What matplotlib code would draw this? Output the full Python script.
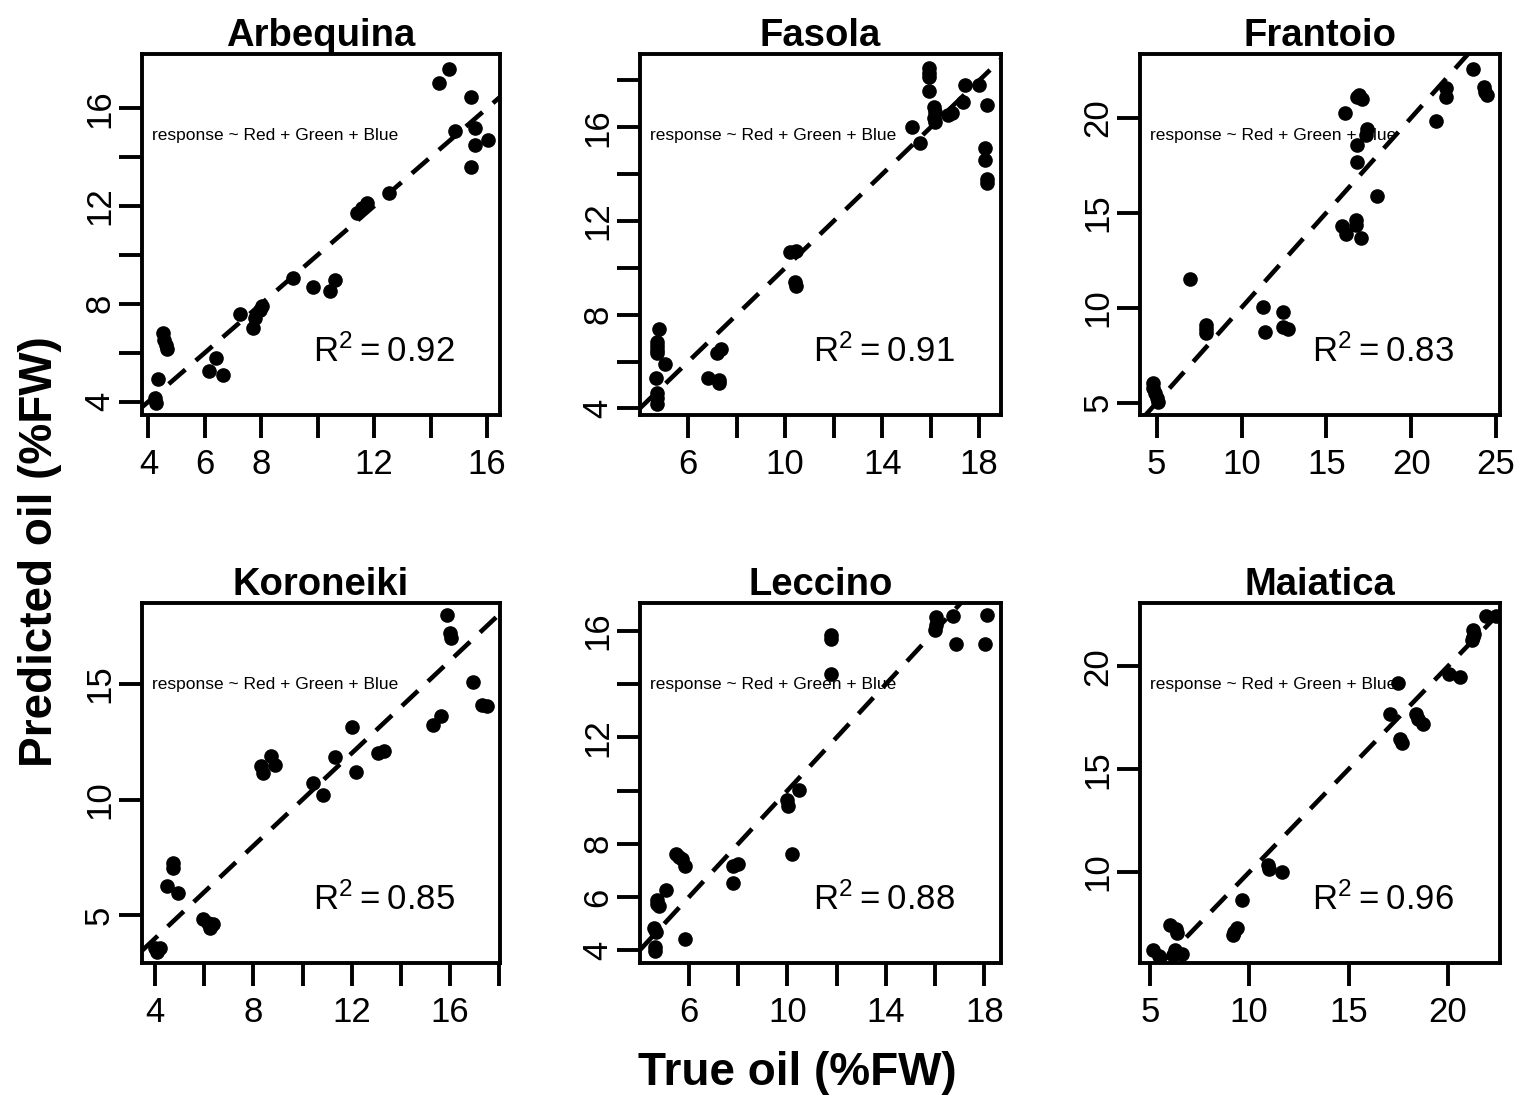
import matplotlib
matplotlib.use("Agg")
import matplotlib.pyplot as plt

plt.rcParams["font.family"] = ["Liberation Sans", "DejaVu Sans"]

cultivars = ["Arbequina", "Fasola", "Frantoio", "Koroneiki", "Leccino", "Maiatica"]
r2_values = [0.92, 0.91, 0.83, 0.85, 0.88, 0.96]

# true vs predicted oil (%FW)
arbequina_true = [14.29, 14.64, 15.43, 14.88, 15.59, 15.59, 16.02, 15.43, 12.51, 11.74,
                  11.57, 11.39, 10.62, 10.42, 9.83, 9.14, 8.02, 7.96, 7.78, 7.70,
                  7.23, 6.40, 6.13, 6.64, 4.53, 4.56, 4.63, 4.67, 4.35, 4.24, 4.27]
arbequina_pred = [17.02, 17.60, 16.45, 15.05, 15.18, 14.50, 14.70, 13.61, 12.52, 12.11,
                  11.91, 11.70, 8.98, 8.54, 8.68, 9.05, 7.89, 7.75, 7.41, 7.00,
                  7.59, 5.77, 5.27, 5.09, 6.80, 6.52, 6.32, 6.14, 4.91, 4.14, 3.93]

fasola_true = [15.94, 15.94, 15.94, 15.94, 16.13, 16.17, 16.13, 16.17, 16.72, 16.86,
               17.41, 17.34, 18.00, 18.33, 15.21, 15.58, 18.23, 18.23, 18.33, 18.33,
               10.19, 10.44, 10.40, 10.44, 4.80, 4.72, 4.72, 4.72, 4.72, 5.04,
               4.67, 4.72, 4.72, 4.72, 7.17, 7.37, 6.82, 7.28, 7.28]
fasola_pred = [18.52, 18.31, 18.16, 17.57, 16.88, 16.67, 16.38, 16.24, 16.53, 16.60,
               17.81, 17.10, 17.81, 16.95, 16.00, 15.32, 15.10, 14.60, 13.78, 13.64,
               10.69, 10.73, 9.41, 9.22, 7.37, 6.85, 6.66, 6.49, 6.35, 5.88,
               5.28, 4.64, 4.43, 4.21, 6.35, 6.52, 5.28, 5.21, 5.10]

frantoio_true = [23.66, 22.05, 22.05, 24.29, 24.35, 24.45, 21.46, 16.83, 17.08, 16.95,
                 16.10, 17.42, 17.34, 16.79, 16.79, 17.97, 15.90, 16.14, 16.75, 16.75,
                 17.02, 6.96, 11.25, 12.43, 11.39, 12.47, 12.76, 7.91, 7.91, 7.91,
                 4.80, 4.80, 4.90, 5.00, 5.10]
frantoio_pred = [22.54, 21.54, 21.07, 21.63, 21.37, 21.19, 19.84, 21.10, 20.96, 21.19,
                 20.26, 19.39, 19.09, 18.56, 17.68, 15.88, 14.30, 13.88, 14.61, 14.35,
                 13.65, 11.49, 10.05, 9.79, 8.70, 9.00, 8.86, 9.09, 8.86, 8.68,
                 6.02, 5.75, 5.49, 5.23, 5.05]

koroneiki_true = [15.86, 16.00, 16.03, 16.95, 17.29, 17.52, 15.62, 15.29, 12.00, 11.32,
                  12.18, 13.08, 13.32, 10.41, 10.85, 8.30, 8.41, 8.71, 8.88, 4.72,
                  4.75, 4.50, 4.95, 5.97, 6.17, 6.35, 6.24, 4.00, 4.20, 4.07]
koroneiki_pred = [17.99, 17.19, 16.98, 15.06, 14.09, 14.05, 13.61, 13.23, 13.12, 11.83,
                  11.20, 12.03, 12.11, 10.73, 10.19, 11.45, 11.13, 11.88, 11.49, 7.27,
                  7.06, 6.26, 5.97, 4.86, 4.67, 4.64, 4.47, 3.60, 3.60, 3.41]

leccino_true = [16.03, 16.03, 15.99, 16.71, 18.12, 16.85, 18.03, 11.79, 11.79, 11.79,
                10.47, 10.00, 10.03, 10.20, 5.48, 5.59, 5.73, 5.82, 7.79, 7.99,
                7.79, 5.05, 4.70, 4.70, 4.78, 4.56, 4.67, 5.82, 4.60, 4.60]
leccino_pred = [16.53, 16.21, 16.05, 16.55, 16.59, 15.52, 15.52, 15.84, 15.68, 14.40,
                10.01, 9.64, 9.41, 7.61, 7.63, 7.51, 7.44, 7.16, 7.16, 7.23,
                6.53, 6.25, 5.90, 5.75, 5.65, 4.85, 4.69, 4.44, 4.13, 3.97]

maiatica_true = [21.93, 22.43, 21.29, 21.34, 21.26, 21.22, 20.05, 20.59, 17.49, 17.07,
                 18.41, 18.49, 18.74, 17.60, 17.70, 10.95, 11.00, 11.67, 9.66, 9.36,
                 9.22, 9.19, 6.00, 6.31, 6.34, 5.17, 5.47, 6.26, 6.59, 6.17]
maiatica_pred = [22.43, 22.43, 21.78, 21.59, 21.43, 21.30, 19.61, 19.48, 19.19, 17.70,
                 17.70, 17.46, 17.21, 16.48, 16.27, 10.32, 10.16, 10.00, 8.65, 7.29,
                 7.08, 6.92, 7.41, 7.24, 7.03, 6.19, 5.94, 6.19, 6.03, 5.98]

true_vals = [arbequina_true, fasola_true, frantoio_true, koroneiki_true, leccino_true, maiatica_true]
pred_vals = [arbequina_pred, fasola_pred, frantoio_pred, koroneiki_pred, leccino_pred, maiatica_pred]

# ticks as R drew them (skipped labels left blank)
x_ticks = [[4, 6, 8, 10, 12, 14, 16], [6, 8, 10, 12, 14, 16, 18], [5, 10, 15, 20, 25],
           [4, 6, 8, 10, 12, 14, 16, 18], [6, 8, 10, 12, 14, 16, 18], [5, 10, 15, 20]]
x_labels = [["4", "6", "8", "", "12", "", "16"], ["6", "", "10", "", "14", "", "18"],
            ["5", "10", "15", "20", "25"], ["4", "", "8", "", "12", "", "16", ""],
            ["6", "", "10", "", "14", "", "18"], ["5", "10", "15", "20"]]
y_ticks = [[4, 6, 8, 10, 12, 14, 16], [4, 6, 8, 10, 12, 14, 16, 18], [5, 10, 15, 20],
           [5, 10, 15], [4, 6, 8, 10, 12, 14, 16], [10, 15, 20]]
y_labels = [["4", "", "8", "", "12", "", "16"], ["4", "", "8", "", "12", "", "16", ""],
            ["5", "10", "15", "20"], ["5", "10", "15"],
            ["4", "6", "8", "", "12", "", "16"], ["10", "15", "20"]]

x_lims = [(3.76, 16.45), (4.01, 18.88), (4.02, 25.2), (3.46, 18.02), (4.01, 18.66), (4.5, 22.6)]
y_lims = [(3.45, 18.22), (3.72, 19.13), (4.35, 23.35), (2.94, 18.49), (3.52, 17.05), (5.58, 23.08)]

W, H = 1535, 1114
fig = plt.figure(figsize=(W / 100, H / 100), dpi=100)

lefts = [141.7, 640, 1140]
widths = [358, 360.5, 359.5]
tops = [54, 603]
heights = [361, 360]

for i, name in enumerate(cultivars):
    r, c = divmod(i, 3)
    ax = fig.add_axes([lefts[c] / W, 1 - (tops[r] + heights[r]) / H, widths[c] / W, heights[r] / H])
    ax.plot(true_vals[i], pred_vals[i], "o", color="black", ms=9.5, mec="black")
    ax.axline((0, 0), slope=1, color="black", lw=3.3, linestyle=(0, (4.8, 3)))
    ax.set_xlim(*x_lims[i])
    ax.set_ylim(*y_lims[i])
    ax.set_xticks(x_ticks[i])
    ax.set_xticklabels(x_labels[i])
    ax.set_yticks(y_ticks[i])
    ax.set_yticklabels(y_labels[i], rotation=90, va="center")
    ax.tick_params(axis="both", length=16.5, width=2.8, labelsize=25)
    ax.tick_params(axis="x", pad=7)
    ax.tick_params(axis="y", pad=2)
    for sp in ax.spines.values():
        sp.set_linewidth(2.8)
    ax.set_title(name, fontsize=27.5, fontweight="bold", pad=4)
    ax.text(0.028, 0.775, "response ~ Red + Green + Blue", transform=ax.transAxes,
            fontsize=12.5, va="center", ha="left")
    ax.text(0.677, 0.147, r"$\mathregular{R^2 = %.2f}$" % r2_values[i], transform=ax.transAxes,
            fontsize=25, ha="center", va="baseline")

fig.text(797 / W, 1 - 1085 / H, "True oil (%FW)", ha="center", va="baseline",
         fontsize=33, fontweight="bold")
fig.text(40 / W, 1 - 552 / H, "Predicted oil (%FW)", ha="center", va="center",
         rotation=90, fontsize=33, fontweight="bold")

fig.savefig("out.png", dpi=100, facecolor="white")
